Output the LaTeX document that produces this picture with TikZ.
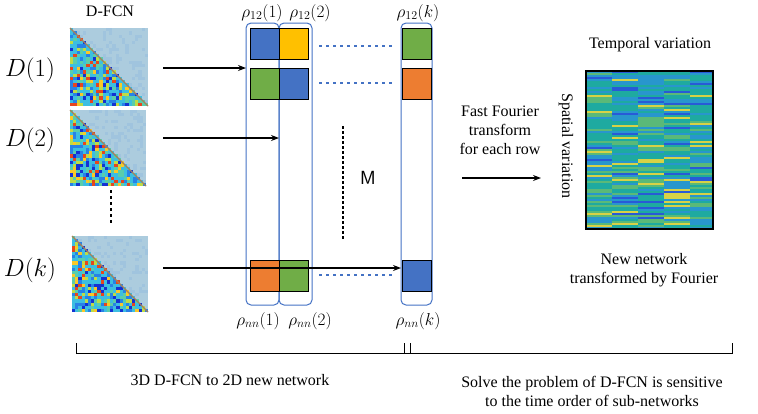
\documentclass[tikz,border=0pt]{standalone}
\usepackage{fontspec}
\setmainfont{Liberation Serif}
\usetikzlibrary{arrows.meta}
\definecolor{sqb}{RGB}{68,114,196}
\definecolor{sqy}{RGB}{255,192,0}
\definecolor{sqg}{RGB}{112,173,71}
\definecolor{sqo}{RGB}{237,125,49}
\definecolor{light}{RGB}{172,204,222}
\definecolor{light2}{RGB}{160,196,222}
\definecolor{j0}{RGB}{20,50,210}
\definecolor{j1}{RGB}{40,130,230}
\definecolor{j2}{RGB}{60,190,225}
\definecolor{j3}{RGB}{90,205,170}
\definecolor{j4}{RGB}{190,220,70}
\definecolor{j5}{RGB}{250,200,40}
\definecolor{j6}{RGB}{230,70,30}
\definecolor{p0}{RGB}{40,90,215}
\definecolor{p1}{RGB}{40,150,205}
\definecolor{p2}{RGB}{30,170,160}
\definecolor{p3}{RGB}{90,185,120}
\definecolor{p4}{RGB}{215,210,70}
\newcommand{\jetc}[1]{%
 \ifcase#1 j0\or j1\or j2\or j2\or j2\or j3\or j3\or j4\or j5\or j6\or j1\else j2\fi}
\newcommand{\lightc}[1]{\ifcase#1 light2\else light\fi}
\newcommand{\fcnmat}[3]{% x y size
 \begin{scope}[shift={(#1,#2)}]
 \foreach \i in {0,...,23}{\foreach \j in {0,...,23}{%
   \ifnum\j>\i
     \pgfmathrandominteger{\r}{0}{3}%
     \fill[\lightc{\r}] (\j*#3/24,\i*#3/24) rectangle ++(#3/24+0.3,#3/24+0.3);
   \else
     \pgfmathrandominteger{\r}{0}{11}%
     \fill[\jetc{\r}] (\j*#3/24,\i*#3/24) rectangle ++(#3/24+0.3,#3/24+0.3);
   \fi}}
 \draw[brown!60!gray,line width=1.2pt] (0,0) -- (#3,#3);
 \end{scope}}
\tikzset{
 col/.style={draw=sqb,line width=1pt,rounded corners=5pt},
 sq/.style={draw=black,line width=0.8pt,minimum width=29pt,minimum height=31pt,inner sep=0,anchor=north west},
 dl/.style={draw=sqb,line width=2pt,dash pattern=on 3pt off 4pt},
 arr/.style={-{Stealth[length=8pt,width=6pt]},line width=1.1pt},
 txt/.style={font=\fontsize{16}{19}\selectfont,align=center},
 lab/.style={font=\fontsize{18}{20}\selectfont}
}
\begin{document}
\begin{tikzpicture}[x=1pt,y=-1pt]
\pgfmathsetseed{7}
\useasboundingbox (0,0) rectangle (758,413);
% left matrices
\fcnmat{70}{28}{78}
\fcnmat{70}{110}{76}
\fcnmat{72}{236}{76}
\node[txt] (dfcn) at (110,11) {D-FCN};
\node[font=\fontsize{24}{26}\selectfont] (d1) at (30,70) {$D(1)$};
\node[font=\fontsize{24}{26}\selectfont] (d2) at (30,140) {$D(2)$};
\node[font=\fontsize{24}{26}\selectfont] (dk) at (30,270) {$D(k)$};
\draw[line width=2.5pt,dash pattern=on 2.5pt off 3.5pt] (111,190) -- (111,223);
% columns
\draw[col] (246,23) rectangle (279,305);
\draw[col] (279,23) rectangle (312,305);
\draw[col] (401,23) rectangle (432,305);
% squares
\node[sq,fill=sqb] (a11) at (250,28) {};
\node[sq,fill=sqy] (a12) at (279,28) {};
\node[sq,fill=sqg] (a1k) at (402,28) {};
\node[sq,fill=sqg] (a21) at (250,68) {};
\node[sq,fill=sqb] (a22) at (279,68) {};
\node[sq,fill=sqo] (a2k) at (402,68) {};
\node[sq,fill=sqo] (an1) at (250,260) {};
\node[sq,fill=sqg] (an2) at (279,260) {};
\node[sq,fill=sqb] (ank) at (402,260) {};
\draw[dl] (319,46) -- (393,46);
\draw[dl] (319,83) -- (393,83);
\draw[dl] (319,275) -- (393,275);
\draw[line width=2.5pt,dash pattern=on 2.5pt off 2.5pt] (343,126) -- (343,239);
\node[font=\sffamily\fontsize{19}{21}\selectfont] (m) at (368,178) {M};
% rho labels
\node[lab] (r1) at (262,13) {$\rho_{12}(1)$};
\node[lab] (r2) at (310,13) {$\rho_{12}(2)$};
\node[lab] (rk) at (418,13) {$\rho_{12}(k)$};
\node[lab] (n1) at (258,321) {$\rho_{nn}(1)$};
\node[lab] (n2) at (310,321) {$\rho_{nn}(2)$};
\node[lab] (nk) at (418,321) {$\rho_{nn}(k)$};
% arrows
\coordinate (s1) at (163,68); \coordinate (e1) at (246,68);
\coordinate (s2) at (163,138); \coordinate (e2) at (279,138);
\coordinate (s3) at (163,268); \coordinate (e3) at (401,268);
\draw[arr] (s1) -- (e1);
\draw[arr] (s2) -- (e2);
\draw[arr] (s3) -- (e3);
% FFT
\node[txt] (fft) at (500,130) {Fast Fourier\\transform\\for each row};
\coordinate (fs) at (462,178); \coordinate (fe) at (541,178);
\draw[arr] (fs) -- (fe);
% right heatmap
\begin{scope}
\clip (586,71) rectangle (713,229);
\foreach \i in {0,...,79}{\foreach \j in {0,...,4}{%
  \pgfmathrandominteger{\r}{0}{11}%
  \fill[\ifcase\r p0\or p1\or p1\or p1\or p2\or p2\or p2\or p2\or p3\or p3\or p4\else p2\fi]
   (586+\j*26,71+\i*2) rectangle ++(26.3,2.3);}}
\end{scope}
\draw[line width=1.3pt] (586,71) rectangle (713,229);
\node[txt] (tv) at (650,45) {Temporal variation};
\node[txt,rotate=-90] (sv) at (566,146) {Spatial variation};
\node[txt] (nn) at (644,270) {New network\\transformed by Fourier};
% brackets
\draw[line width=1pt] (76,343) -- (76,353) -- (410,353) -- (410,343);
\draw[line width=1pt] (404,343) -- (404,353) -- (732,353) -- (732,343);
\node[txt] (b1) at (230,380) {3D D-FCN to 2D new network};
\node[txt] (b2) at (592,391) {Solve the problem of D-FCN is sensitive\\to the time order of sub-networks};
\end{tikzpicture}
\end{document}
